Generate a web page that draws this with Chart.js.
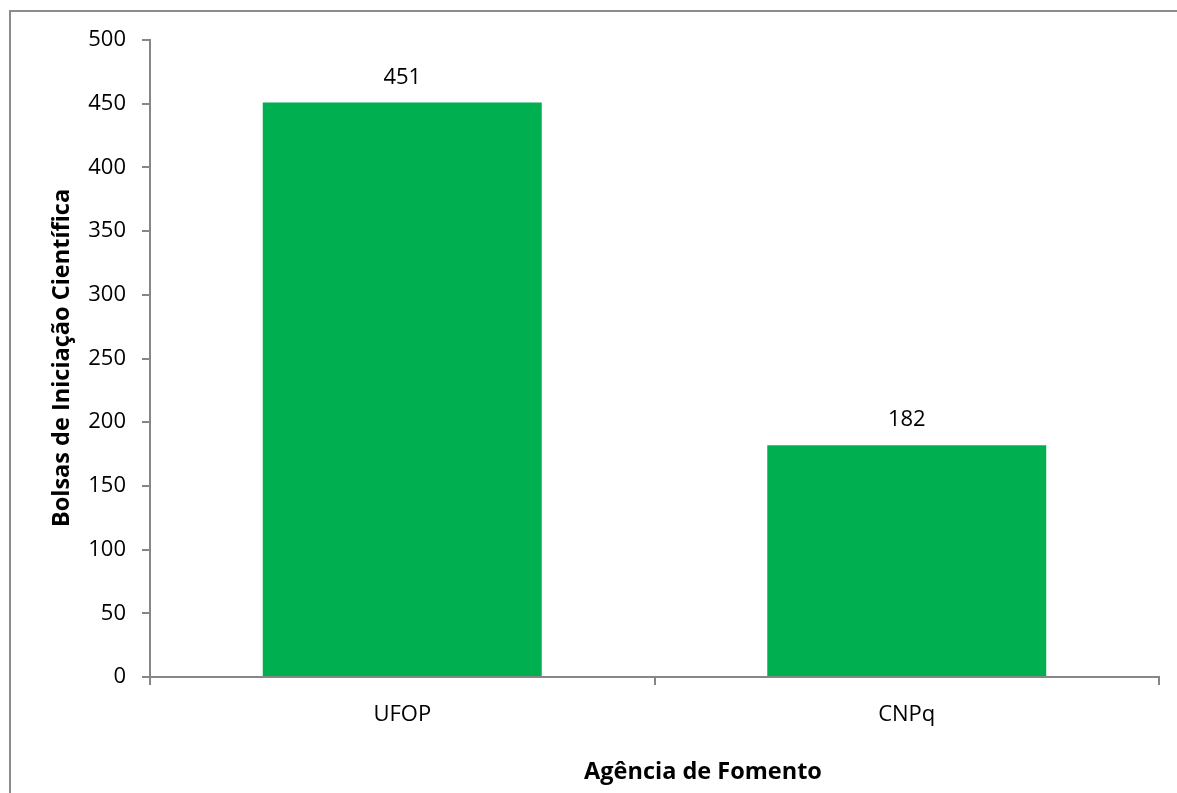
<!DOCTYPE html>
<html>
<head>
<meta charset="utf-8">
<script src="https://cdn.jsdelivr.net/npm/chart.js@4"></script>
<style>
  html, body { margin: 0; padding: 0; background: #fff; }
  #wrap { width: 1177px; height: 793px; position: relative; }
</style>
</head>
<body>
<div id="wrap"><canvas id="c" width="1177" height="793"></canvas></div>
<script>
const categories = ["UFOP", "CNPq"];
const values = [451, 182];
const yTicks = [0, 50, 100, 150, 200, 250, 300, 350, 400, 450, 500];
const xTitle = "Agência de Fomento";
const yTitle = "Bolsas de Iniciação Científica";

const FONT = "'Open Sans', Lato, sans-serif";
const AXIS = "#868686";

const extras = {
  id: "extras",
  beforeDraw(chart) {
    const ctx = chart.ctx;
    ctx.save();
    ctx.fillStyle = "#fff";
    ctx.fillRect(0, 0, chart.width, chart.height);
    ctx.strokeStyle = "#8c8c8c";
    ctx.lineWidth = 2;
    ctx.strokeRect(10, 11, chart.width - 9, chart.height + 10);
    ctx.restore();
  },
  afterDatasetsDraw(chart) {
    const ctx = chart.ctx;
    const meta = chart.getDatasetMeta(0);
    ctx.save();
    ctx.fillStyle = "#000";
    ctx.font = "22px " + FONT;
    ctx.textAlign = "center";
    ctx.textBaseline = "middle";
    meta.data.forEach((bar, i) => {
      ctx.fillText(String(values[i]), bar.x, bar.y - 25);
    });
    // axis titles
    ctx.font = "bold 23.5px " + FONT;
    ctx.fillText(xTitle, 703, 772);
    ctx.translate(62, 358);
    ctx.rotate(-Math.PI / 2);
    ctx.fillText(yTitle, 0, 0);
    ctx.restore();
  }
};

new Chart(document.getElementById("c"), {
  type: "bar",
  data: {
    labels: categories,
    datasets: [{
      data: values,
      backgroundColor: "#00B050",
      borderWidth: 0,
      categoryPercentage: 0.553,
      barPercentage: 1.0
    }]
  },
  options: {
    responsive: false,
    animation: false,
    devicePixelRatio: 1,
    layout: { padding: { top: 40, right: 18, left: 0, bottom: 0 } },
    plugins: { legend: { display: false }, tooltip: { enabled: false } },
    scales: {
      y: {
        min: 0, max: 500,
        afterFit(scale) { scale.width = 150; },
        afterBuildTicks(scale) { scale.ticks = yTicks.map(v => ({ value: v })); },
        ticks: { color: "#000", font: { family: FONT, size: 22 }, padding: 16 },
        grid: { drawOnChartArea: false, drawTicks: true, tickLength: 8, color: AXIS, lineWidth: 2 },
        border: { color: AXIS, width: 2 }
      },
      x: {
        afterFit(scale) { scale.height = 116; },
        ticks: { color: "#000", font: { family: FONT, size: 22 }, padding: 17 },
        grid: { drawOnChartArea: false, drawTicks: true, tickLength: 8, color: AXIS, lineWidth: 2, offset: true },
        border: { color: AXIS, width: 2 }
      }
    }
  },
  plugins: [extras]
});
</script>
</body>
</html>
